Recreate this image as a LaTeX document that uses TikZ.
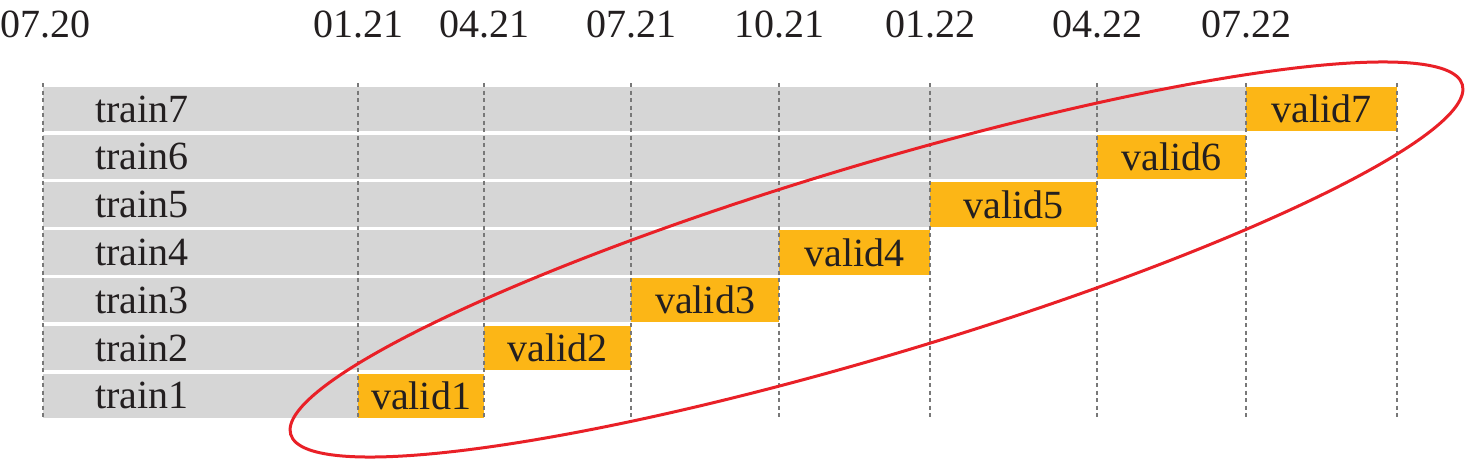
\documentclass[tikz,border=0pt]{standalone}
\usepackage{fontspec}
\setmainfont{Liberation Serif}
\usetikzlibrary{positioning}
\definecolor{bargray}{RGB}{214,214,214}
\definecolor{validorange}{RGB}{252,182,22}
\definecolor{tickgray}{RGB}{120,120,120}
\definecolor{ringred}{RGB}{233,32,39}
\definecolor{textdark}{RGB}{35,31,32}

\begin{document}
\begin{tikzpicture}[
  x=1pt, y=1pt,
  train bar/.style={fill=bargray, minimum height=44.5pt, inner sep=0pt, outer sep=0pt, anchor=west},
  valid box/.style={fill=validorange, minimum height=44.5pt, inner sep=0pt, outer sep=0pt, text=textdark, font=\fontsize{40}{48}\selectfont},
  train label/.style={anchor=west, inner sep=0pt, text=textdark, font=\fontsize{40}{48}\selectfont},
  date label/.style={inner sep=0pt, text=textdark, font=\fontsize{40}{48}\selectfont},
  tick line/.style={tickgray, line width=2.2pt, dash pattern=on 4pt off 3.5pt},
  ring/.style={ringred, line width=3pt}
]
  \useasboundingbox (0,0) rectangle (1472,-460);
  \coordinate (date row) at (0,-24);
  \coordinate (top) at (0,-83);
  \coordinate (bottom) at (0,-419);

  % row 7
  \node[train bar, minimum width=1203pt] (bar7) at (43,-109) {};
  \node[valid box, minimum width=151pt, right=0pt of bar7] (valid7) {valid7};
  \node[train label] (train7) at (95,-109) {train7};

  % row 6
  \node[train bar, minimum width=1054pt] (bar6) at (43,-156.8) {};
  \node[valid box, minimum width=149pt, right=0pt of bar6] (valid6) {valid6};
  \node[train label] (train6) at (95,-156.8) {train6};

  % row 5
  \node[train bar, minimum width=887pt] (bar5) at (43,-204.6) {};
  \node[valid box, minimum width=167pt, right=0pt of bar5] (valid5) {valid5};
  \node[train label] (train5) at (95,-204.6) {train5};

  % row 4
  \node[train bar, minimum width=736pt] (bar4) at (43,-252.4) {};
  \node[valid box, minimum width=151pt, right=0pt of bar4] (valid4) {valid4};
  \node[train label] (train4) at (95,-252.4) {train4};

  % row 3
  \node[train bar, minimum width=588pt] (bar3) at (43,-300.2) {};
  \node[valid box, minimum width=148pt, right=0pt of bar3] (valid3) {valid3};
  \node[train label] (train3) at (95,-300.2) {train3};

  % row 2
  \node[train bar, minimum width=441pt] (bar2) at (43,-348) {};
  \node[valid box, minimum width=147pt, right=0pt of bar2] (valid2) {valid2};
  \node[train label] (train2) at (95,-348) {train2};

  % row 1
  \node[train bar, minimum width=315pt] (bar1) at (43,-395.8) {};
  \node[valid box, minimum width=126pt, right=0pt of bar1] (valid1) {valid1};
  \node[train label] (train1) at (95,-395.8) {train1};

  % dates
  \node[date label] (d0720) at (45,-24) {07.20};
  \node[date label] (d0121) at (valid1.west |- date row) {01.21};
  \node[date label] (d0421) at (valid2.west |- date row) {04.21};
  \node[date label] (d0721) at (valid3.west |- date row) {07.21};
  \node[date label] (d1021) at (valid4.west |- date row) {10.21};
  \node[date label] (d0122) at (valid5.west |- date row) {01.22};
  \node[date label] (d0422) at (valid6.west |- date row) {04.22};
  \node[date label] (d0722) at (valid7.west |- date row) {07.22};

  % grid lines
  \draw[tick line] (bar1.west |- top) -- (bar1.west |- bottom);
  \draw[tick line] (valid1.west |- top) -- (valid1.west |- bottom);
  \draw[tick line] (valid2.west |- top) -- (valid2.west |- bottom);
  \draw[tick line] (valid3.west |- top) -- (valid3.west |- bottom);
  \draw[tick line] (valid4.west |- top) -- (valid4.west |- bottom);
  \draw[tick line] (valid5.west |- top) -- (valid5.west |- bottom);
  \draw[tick line] (valid6.west |- top) -- (valid6.west |- bottom);
  \draw[tick line] (valid7.west |- top) -- (valid7.west |- bottom);
  \draw[tick line] (valid7.east |- top) -- (valid7.east |- bottom);

  % validation ring
  \draw[ring, rotate around={16.63:(876.5,-259.5)}] (876.5,-259.5) ellipse (611.4 and 95.6);
\end{tikzpicture}
\end{document}
